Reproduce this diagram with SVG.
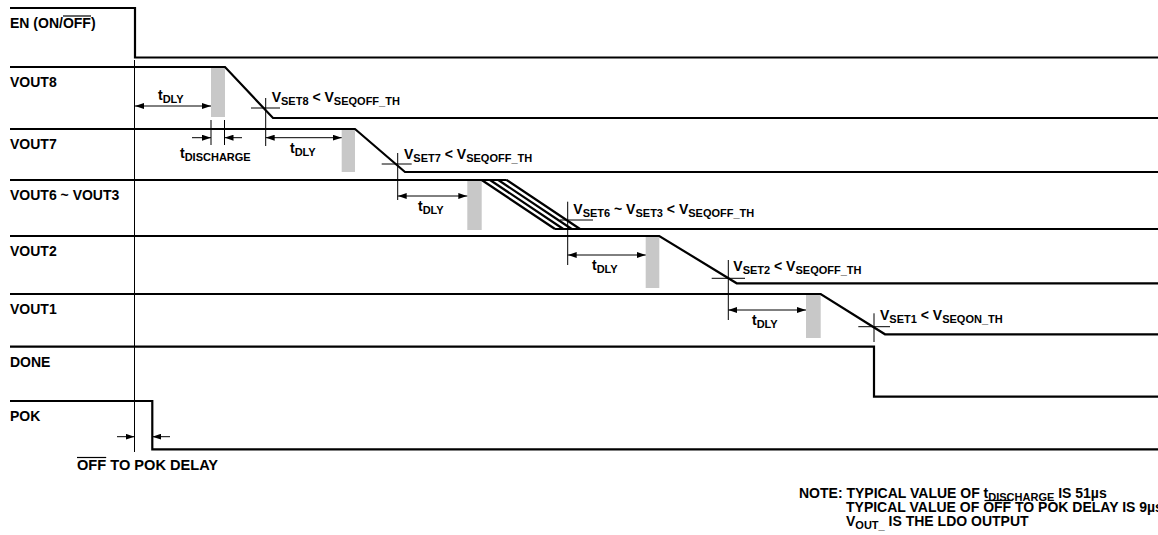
<svg xmlns="http://www.w3.org/2000/svg" width="1158" height="535" viewBox="0 0 1158 535">
<style>
text{font-family:"Liberation Sans",Arial,sans-serif;font-weight:bold;font-size:14px;fill:#000}
.sub{font-size:11px}
.wave{fill:none;stroke:#000;stroke-width:2.2}
.thin{fill:none;stroke:#000;stroke-width:1}
.bar{fill:#c8c8c8}
.dim{fill:none;stroke:#000;stroke-width:1}
.ov{stroke:#000;stroke-width:1.2}
</style>
<defs>
<marker id="ah" viewBox="0 0 9 6" refX="9" refY="3" markerWidth="9" markerHeight="6" markerUnits="userSpaceOnUse" orient="auto-start-reverse"><path d="M0,0L9,3L0,6z" fill="#000"/></marker>
</defs>
<rect width="1158" height="535" fill="#fff"/>

<g id="bars">
<rect class="bar" x="211" y="67" width="14" height="50"/>
<rect class="bar" x="341.7" y="129" width="13.3" height="43"/>
<rect class="bar" x="467.3" y="180" width="14.4" height="50"/>
<rect class="bar" x="645.7" y="236" width="13.6" height="52"/>
<rect class="bar" x="806" y="294" width="14.7" height="44"/>
</g>

<g id="ref-line"><path class="thin" d="M134.5,60V452"/></g>

<g id="en">
<path class="wave" d="M10,8H135V57.5H1158"/>
<text x="10" y="28">EN (ON/OFF)</text>
<line class="ov" x1="63" y1="16" x2="91" y2="16"/>
</g>

<g id="vout8">
<path class="wave" d="M10,67H225L273,118H1158"/>
<text x="10" y="87">VOUT8</text>
<path class="thin" d="M251,108H280M265.7,98V146"/>
<text x="271.7" y="102">V<tspan class="sub" dy="3">SET8</tspan><tspan dy="-3"> &lt; V</tspan><tspan class="sub" dy="3">SEQOFF_TH</tspan></text>
<text x="158" y="100">t<tspan class="sub" dy="3">DLY</tspan></text>
<text x="180" y="158">t<tspan class="sub" dy="3">DISCHARGE</tspan></text>
</g>

<g id="vout7">
<path class="wave" d="M10,129H355L405,172H1158"/>
<text x="10" y="149">VOUT7</text>
<path class="thin" d="M381.7,164H411.7M397.7,153V200"/>
<text x="404" y="159">V<tspan class="sub" dy="3">SET7</tspan><tspan dy="-3"> &lt; V</tspan><tspan class="sub" dy="3">SEQOFF_TH</tspan></text>
<text x="290" y="153">t<tspan class="sub" dy="3">DLY</tspan></text>
</g>

<g id="vout6-vout3">
<path class="wave" d="M10,180H506.7M481.7,180L555,229M490,180L563.3,229M498.3,180L571.7,229M506.7,180L580,229M555,229H1158"/>
<text x="10" y="200">VOUT6 ~ VOUT3</text>
<path class="thin" d="M567.7,201.7V265M560,220H593"/>
<text x="573.3" y="214">V<tspan class="sub" dy="3">SET6</tspan><tspan dy="-3"> ~ V</tspan><tspan class="sub" dy="3">SET3</tspan><tspan dy="-3"> &lt; V</tspan><tspan class="sub" dy="3">SEQOFF_TH</tspan></text>
<text x="418" y="211">t<tspan class="sub" dy="3">DLY</tspan></text>
</g>

<g id="vout2">
<path class="wave" d="M10,236H659.3L736.7,283.3H1158"/>
<text x="10" y="256">VOUT2</text>
<path class="thin" d="M711.7,278.3H745M728.3,260V320"/>
<text x="733.3" y="271">V<tspan class="sub" dy="3">SET2</tspan><tspan dy="-3"> &lt; V</tspan><tspan class="sub" dy="3">SEQOFF_TH</tspan></text>
<text x="592" y="270">t<tspan class="sub" dy="3">DLY</tspan></text>
</g>

<g id="vout1">
<path class="wave" d="M10,294H820.7L885,334.3H1158"/>
<text x="10" y="314">VOUT1</text>
<path class="thin" d="M858.3,326.7H890M874,313.3V342"/>
<text x="880" y="320">V<tspan class="sub" dy="3">SET1</tspan><tspan dy="-3"> &lt; V</tspan><tspan class="sub" dy="3">SEQON_TH</tspan></text>
<text x="752" y="325">t<tspan class="sub" dy="3">DLY</tspan></text>
</g>

<g id="done">
<path class="wave" d="M10,346.7H874V396.7H1158"/>
<text x="10" y="367">DONE</text>
</g>

<g id="pok">
<path class="wave" d="M10,401H152.3V449.3H1158"/>
<text x="10" y="421">POK</text>
<text x="77" y="470" style="font-size:14.6px">OFF TO POK DELAY</text>
<line class="ov" x1="77" y1="457.5" x2="106.2" y2="457.5"/>
</g>

<g id="connectors">
<line class="dim" x1="135" y1="106" x2="211" y2="106" marker-start="url(#ah)" marker-end="url(#ah)"/>
<path class="dim" d="M211,120V145M224.5,120V145"/>
<line class="dim" x1="192" y1="137.7" x2="211" y2="137.7" marker-end="url(#ah)"/>
<line class="dim" x1="242" y1="137.7" x2="224.5" y2="137.7" marker-end="url(#ah)"/>
<line class="dim" x1="265.7" y1="137.7" x2="341.7" y2="137.7" marker-start="url(#ah)" marker-end="url(#ah)"/>
<line class="dim" x1="397.7" y1="196" x2="467.3" y2="196" marker-start="url(#ah)" marker-end="url(#ah)"/>
<line class="dim" x1="567.7" y1="255" x2="645.7" y2="255" marker-start="url(#ah)" marker-end="url(#ah)"/>
<line class="dim" x1="728.3" y1="310" x2="806" y2="310" marker-start="url(#ah)" marker-end="url(#ah)"/>
<line class="dim" x1="117" y1="436.7" x2="134.5" y2="436.7" marker-end="url(#ah)"/>
<line class="dim" x1="170" y1="436.7" x2="152.3" y2="436.7" marker-end="url(#ah)"/>
</g>

<g id="note">
<text x="799" y="497.5">NOTE: TYPICAL VALUE OF t<tspan class="sub" dy="3">DISCHARGE</tspan><tspan dy="-3"> IS 51µs</tspan></text>
<text x="846" y="512">TYPICAL VALUE OF OFF TO POK DELAY IS 9µs</text>
<line class="ov" x1="984.5" y1="500.5" x2="1012.5" y2="500.5"/>
<text x="846" y="526">V<tspan class="sub" dy="3">OUT_</tspan><tspan dy="-3"> IS THE LDO OUTPUT</tspan></text>
</g>
</svg>
